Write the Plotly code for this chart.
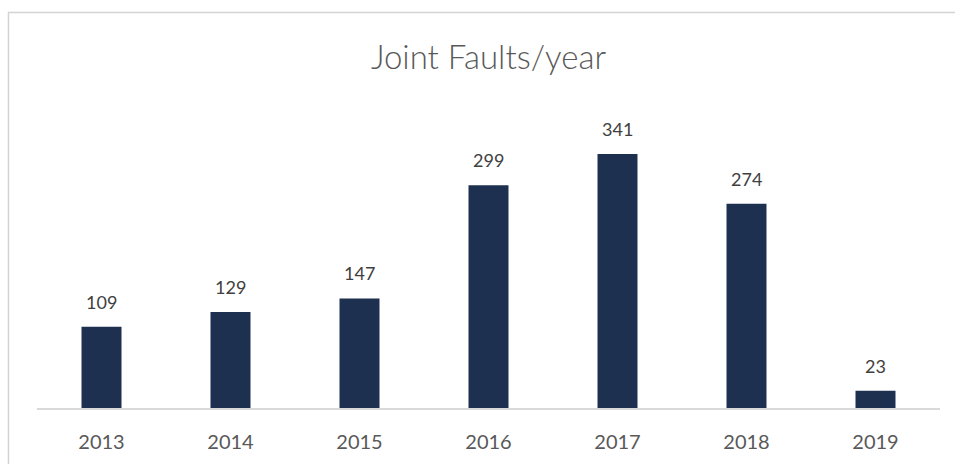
import plotly.graph_objects as go

# Joint faults recorded per year
years = ["2013", "2014", "2015", "2016", "2017", "2018", "2019"]
faults = [109, 129, 147, 299, 341, 274, 23]

W, H = 955, 464
M_L, M_R, M_T, M_B = 37, 15, 110, 56

BAR = "#1E3050"
GREY_TXT = "#595959"
FONT = "Lato, 'Open Sans', sans-serif"

fig = go.Figure(
    go.Bar(
        x=years,
        y=faults,
        marker=dict(color=BAR, line=dict(width=0)),
        hoverinfo="x+y",
    )
)

# value labels above each bar (category axis: position = category index)
for i, v in enumerate(faults):
    fig.add_annotation(
        x=i, y=v, text=str(v), showarrow=False,
        yanchor="bottom", yshift=12,
        font=dict(family=FONT, size=18, color="#404040"),
    )

# outer chart frame (runs off the right and bottom edges)
pw = W - M_L - M_R
ph = H - M_T - M_B
def px_x(p):
    return (p - M_L) / pw
def px_y(p):
    return (H - M_B - p) / ph

fig.add_shape(
    type="rect", xref="paper", yref="paper",
    x0=px_x(8.5), x1=px_x(W + 5), y0=px_y(H + 5), y1=px_y(12.5),
    line=dict(color="#D4D4D4", width=1.5), fillcolor="rgba(0,0,0,0)",
    layer="below",
)

fig.update_layout(
    width=W, height=H, autosize=False,
    margin=dict(l=M_L, r=M_R, t=M_T, b=M_B, pad=0),
    paper_bgcolor="white", plot_bgcolor="white",
    bargap=0.69,
    showlegend=False,
    title=dict(
        text="Joint Faults/year",
        x=0.5, xref="paper", xanchor="center",
        y=1 - 57 / H, yref="container", yanchor="middle",
        font=dict(family=FONT, size=33, color=GREY_TXT, weight=300),
    ),
    xaxis=dict(
        type="category",
        range=[-0.5, len(years) - 0.5],
        showgrid=False, zeroline=False,
        showline=True, linecolor="#D9D9D9", linewidth=1.5,
        ticks="", ticklabelstandoff=15,
        tickfont=dict(family=FONT, size=20, color=GREY_TXT),
    ),
    yaxis=dict(
        range=[0, 400], showgrid=False, zeroline=False,
        showticklabels=False, showline=False,
    ),
)

fig.write_html("out.html")
